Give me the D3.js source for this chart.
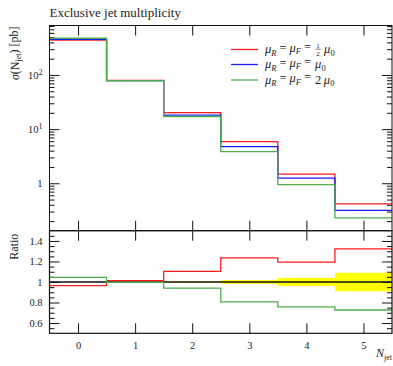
<!DOCTYPE html>
<html>
<head>
<meta charset="utf-8">
<script src="https://cdn.jsdelivr.net/npm/d3@7"></script>
<style>
  html, body { margin: 0; padding: 0; background: #fff; }
  svg { display: block; }
  text { font-family: "Liberation Serif", "DejaVu Serif", serif; fill: #222; }
</style>
</head>
<body>
<script>
// Jet multiplicity bins and cross sections (pb) for three scale choices
const nJet = [0, 1, 2, 3, 4, 5];
const sigmaHalf = [440, 79.5, 20.1, 5.87, 1.48, 0.417];   // mu_R = mu_F = 1/2 mu_0
const sigmaNominal = [456, 78.5, 18.2, 4.75, 1.24, 0.315]; // mu_R = mu_F = mu_0
const sigmaDouble = [477, 78.2, 17.1, 3.83, 0.94, 0.229];  // mu_R = mu_F = 2 mu_0
// Relative statistical uncertainty of the nominal prediction
const relErr = [0, 0, 0.005, 0.018, 0.04, 0.09];

const mainTicks = [1, 10, 100];
const ratioTicks = [0.6, 0.8, 1.0, 1.2, 1.4];

const W = 393, H = 366;
const left = 49.5, right = 392;
const mainTop = 25.5, mainBottom = 230.7, ratioBottom = 333.3;
const serif = "'Liberation Serif', 'DejaVu Serif', serif";

const svg = d3.select("body").append("svg").attr("width", W).attr("height", H);

const x = d3.scaleLinear().domain([-0.5, 5.5]).range([left, right]);
const y = d3.scaleLog().domain([0.133, 820]).range([mainBottom, mainTop]);
const yr = d3.scaleLinear().domain([0.5, 1.5]).range([ratioBottom, mainBottom]);

const colors = { half: "#ff1a1a", nominal: "#1a1aff", double: "#4caf4c" };

// step-histogram path
function stepPath(values, scale) {
  const pts = [];
  values.forEach((v, i) => {
    pts.push([x(nJet[i] - 0.5), scale(v)]);
    pts.push([x(nJet[i] + 0.5), scale(v)]);
  });
  return d3.line()(pts);
}

// ---------- main panel ----------
const logMinors = [];
[0.1, 1, 10, 100].forEach(d => {
  for (let k = 2; k <= 9; k++) {
    const v = d * k;
    if (v > 0.133 && v < 820) logMinors.push(v);
  }
});

function styleAxis(g) {
  g.select(".domain").remove();
  g.selectAll(".tick line").attr("stroke", "#111").attr("stroke-width", 1);
  g.attr("font-family", serif);
}

svg.append("g").attr("transform", `translate(${left},0)`)
  .call(d3.axisLeft(y).tickValues(logMinors).tickSize(-5).tickFormat(""))
  .call(styleAxis);
svg.append("g").attr("transform", `translate(${right},0)`)
  .call(d3.axisRight(y).tickValues(logMinors).tickSize(-5).tickFormat(""))
  .call(styleAxis);
svg.append("g").attr("transform", `translate(${right},0)`)
  .call(d3.axisRight(y).tickValues(mainTicks).tickSize(-10).tickFormat(""))
  .call(styleAxis);

const mainLeft = svg.append("g").attr("transform", `translate(${left},0)`)
  .call(d3.axisLeft(y).tickValues(mainTicks).tickSize(-10).tickPadding(7).tickFormat(""))
  .call(styleAxis);
mainLeft.selectAll(".tick text").each(function (d) {
  const t = d3.select(this).attr("font-size", 10.5).attr("fill", "#222").attr("dy", "0.32em");
  const e = Math.round(Math.log10(d));
  if (e === 0) {
    t.text("1");
  } else {
    t.append("tspan").text("10");
    t.append("tspan").attr("dy", "-0.45em").attr("font-size", 8).text(String(e));
  }
});

svg.append("g").attr("transform", `translate(0,${mainTop})`)
  .call(d3.axisTop(x).tickValues(nJet).tickSize(-10).tickFormat(""))
  .call(styleAxis);
svg.append("g").attr("transform", `translate(0,${mainBottom})`)
  .call(d3.axisBottom(x).tickValues(nJet).tickSize(-10).tickFormat(""))
  .call(styleAxis);

const mainLines = svg.append("g").attr("fill", "none").attr("stroke-width", 1.3);
[[sigmaHalf, colors.half], [sigmaNominal, colors.nominal], [sigmaDouble, colors.double]]
  .forEach(([vals, c]) => {
    mainLines.append("path").attr("d", stepPath(vals, y)).attr("stroke", c);
  });

// ---------- ratio panel ----------
const ratioHalf = sigmaHalf.map((v, i) => v / sigmaNominal[i]);
const ratioDouble = sigmaDouble.map((v, i) => v / sigmaNominal[i]);

const bands = svg.append("g");
nJet.forEach((n, i) => {
  if (relErr[i] <= 0) return;
  bands.append("rect")
    .attr("x", x(n - 0.5))
    .attr("width", x(n + 0.5) - x(n - 0.5))
    .attr("y", yr(1 + relErr[i]))
    .attr("height", Math.max(1.2, yr(1 - relErr[i]) - yr(1 + relErr[i])))
    .attr("fill", "#ffff00");
});

const ratioMinors = d3.range(0.55, 1.5, 0.05).map(v => +v.toFixed(2))
  .filter(v => !ratioTicks.some(t => Math.abs(t - v) < 1e-6));

svg.append("g").attr("transform", `translate(${left},0)`)
  .call(d3.axisLeft(yr).tickValues(ratioMinors).tickSize(-5).tickFormat(""))
  .call(styleAxis);
svg.append("g").attr("transform", `translate(${right},0)`)
  .call(d3.axisRight(yr).tickValues(ratioMinors).tickSize(-5).tickFormat(""))
  .call(styleAxis);
svg.append("g").attr("transform", `translate(${right},0)`)
  .call(d3.axisRight(yr).tickValues(ratioTicks).tickSize(-10).tickFormat(""))
  .call(styleAxis);
const ratioLeft = svg.append("g").attr("transform", `translate(${left},0)`)
  .call(d3.axisLeft(yr).tickValues(ratioTicks).tickSize(-10).tickPadding(7)
    .tickFormat(d => d === 1 ? "1" : d3.format(".1f")(d)))
  .call(styleAxis);
ratioLeft.selectAll(".tick text").attr("font-size", 10.5).attr("fill", "#222");

svg.append("g").attr("transform", `translate(0,${mainBottom})`)
  .call(d3.axisTop(x).tickValues(nJet).tickSize(-10).tickFormat(""))
  .call(styleAxis);
const xAxis = svg.append("g").attr("transform", `translate(0,${ratioBottom})`)
  .call(d3.axisBottom(x).tickValues(nJet).tickSize(-10).tickPadding(8).tickFormat(d3.format("d")))
  .call(styleAxis);
xAxis.selectAll(".tick text").attr("font-size", 10.5).attr("fill", "#222");

const ratioLines = svg.append("g").attr("fill", "none").attr("stroke-width", 1.3);
ratioLines.append("path").attr("d", stepPath(nJet.map(() => 1), yr)).attr("stroke", "#111");
ratioLines.append("path").attr("d", stepPath(ratioHalf, yr)).attr("stroke", colors.half);
ratioLines.append("path").attr("d", stepPath(ratioDouble, yr)).attr("stroke", colors.double);

// ---------- frames ----------
svg.append("rect").attr("x", left).attr("y", mainTop)
  .attr("width", right - left).attr("height", mainBottom - mainTop)
  .attr("fill", "none").attr("stroke", "#111").attr("stroke-width", 1);
svg.append("rect").attr("x", left).attr("y", mainBottom)
  .attr("width", right - left).attr("height", ratioBottom - mainBottom)
  .attr("fill", "none").attr("stroke", "#111").attr("stroke-width", 1.2);

// ---------- labels ----------
svg.append("text").attr("x", left).attr("y", 17).attr("font-size", 13).text("Exclusive jet multiplicity");

const yLab = svg.append("text")
  .attr("transform", `translate(19,${mainTop + 1}) rotate(-90)`)
  .attr("text-anchor", "end").attr("font-size", 12);
yLab.append("tspan").attr("font-style", "italic").text("σ");
yLab.append("tspan").text("(N");
yLab.append("tspan").attr("font-size", 8).attr("dy", "0.3em").text("jet");
yLab.append("tspan").attr("dy", "-0.3em").text(") [pb]");

svg.append("text")
  .attr("transform", `translate(18,${mainBottom + 3}) rotate(-90)`)
  .attr("text-anchor", "end").attr("font-size", 12).text("Ratio");

const xLab = svg.append("text").attr("x", right).attr("y", 357)
  .attr("text-anchor", "end").attr("font-size", 12);
xLab.append("tspan").attr("font-style", "italic").text("N");
xLab.append("tspan").attr("font-size", 8).attr("dy", "0.35em").text("jet");

// ---------- legend ----------
const legend = svg.append("g");
const legendItems = [
  { color: colors.half, y: 49.5, factor: "half" },
  { color: colors.nominal, y: 64.5, factor: "" },
  { color: colors.double, y: 80, factor: "2" }
];
const fs = 12.5;
legendItems.forEach(item => {
  legend.append("line").attr("x1", 231).attr("x2", 258)
    .attr("y1", item.y).attr("y2", item.y)
    .attr("stroke", item.color).attr("stroke-width", 1.3);
  const base = item.y + 3.5;
  const t = legend.append("text").attr("x", 265).attr("y", base).attr("font-size", fs);
  t.append("tspan").attr("font-style", "italic").text("μ");
  t.append("tspan").attr("font-style", "italic").attr("font-size", 8.5).attr("dy", "0.3em").text("R");
  t.append("tspan").attr("dy", "-0.3em").attr("dx", 3).text("=");
  t.append("tspan").attr("font-style", "italic").attr("dx", 3).text("μ");
  t.append("tspan").attr("font-style", "italic").attr("font-size", 8.5).attr("dy", "0.3em").text("F");
  t.append("tspan").attr("dy", "-0.3em").attr("dx", 3).text("=");
  let xOff = 265 + t.node().getBBox().width + 3;
  if (item.factor === "half") {
    // stacked fraction 1/2
    legend.append("text").attr("x", xOff + 3).attr("y", base - 5.2)
      .attr("font-size", 7).attr("text-anchor", "middle").text("1");
    legend.append("line").attr("x1", xOff + 0.5).attr("x2", xOff + 5.5)
      .attr("y1", base - 3.8).attr("y2", base - 3.8).attr("stroke", "#222").attr("stroke-width", 0.6);
    legend.append("text").attr("x", xOff + 3).attr("y", base + 2.6)
      .attr("font-size", 7).attr("text-anchor", "middle").text("2");
    xOff += 9;
  } else if (item.factor === "2") {
    const f = legend.append("text").attr("x", xOff).attr("y", base).attr("font-size", fs).text("2");
    xOff += f.node().getComputedTextLength() + 2.5;
  }
  const m = legend.append("text").attr("x", xOff).attr("y", base).attr("font-size", fs);
  m.append("tspan").attr("font-style", "italic").text("μ");
  m.append("tspan").attr("font-size", 8.5).attr("dy", "0.3em").text("0");
});
</script>
</body>
</html>
